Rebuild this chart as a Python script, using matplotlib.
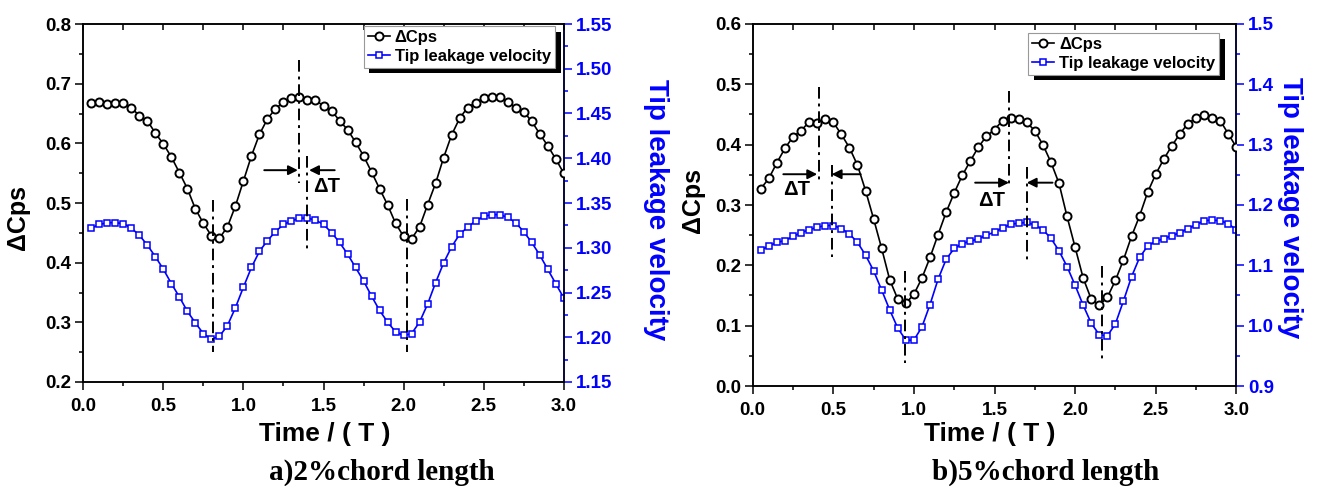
import numpy as np
import matplotlib
matplotlib.use("Agg")
import matplotlib.pyplot as plt
from matplotlib.ticker import MultipleLocator
import matplotlib.patheffects as pe

# ---------------- data ----------------
time = [round(0.05 * i, 2) for i in range(1, 61)]

cps_a = [0.668, 0.669, 0.666, 0.668, 0.668, 0.660, 0.646, 0.638, 0.617, 0.599,
         0.577, 0.551, 0.524, 0.490, 0.466, 0.445, 0.441, 0.460, 0.495, 0.537,
         0.579, 0.615, 0.641, 0.658, 0.669, 0.676, 0.678, 0.672, 0.672, 0.663,
         0.655, 0.638, 0.623, 0.602, 0.579, 0.552, 0.524, 0.497, 0.466, 0.444,
         0.440, 0.460, 0.497, 0.533, 0.576, 0.614, 0.642, 0.660, 0.668, 0.676,
         0.678, 0.678, 0.670, 0.660, 0.653, 0.637, 0.616, 0.596, 0.574, 0.550]

vel_a = [1.322, 1.326, 1.328, 1.328, 1.327, 1.322, 1.314, 1.303, 1.290, 1.276,
         1.260, 1.245, 1.229, 1.216, 1.204, 1.198, 1.201, 1.213, 1.233, 1.256,
         1.278, 1.296, 1.308, 1.318, 1.326, 1.330, 1.333, 1.333, 1.331, 1.326,
         1.317, 1.306, 1.293, 1.278, 1.263, 1.246, 1.230, 1.217, 1.206, 1.202,
         1.204, 1.217, 1.237, 1.261, 1.283, 1.301, 1.315, 1.323, 1.330, 1.335,
         1.337, 1.337, 1.334, 1.328, 1.318, 1.306, 1.292, 1.276, 1.260, 1.244]

cps_b = [0.327, 0.344, 0.370, 0.394, 0.413, 0.423, 0.438, 0.436, 0.443, 0.437,
         0.417, 0.395, 0.366, 0.324, 0.277, 0.228, 0.176, 0.144, 0.137, 0.152,
         0.179, 0.213, 0.251, 0.288, 0.320, 0.349, 0.373, 0.396, 0.414, 0.425,
         0.440, 0.445, 0.443, 0.437, 0.423, 0.400, 0.371, 0.336, 0.281, 0.230,
         0.179, 0.144, 0.134, 0.147, 0.175, 0.209, 0.248, 0.282, 0.321, 0.351,
         0.376, 0.398, 0.418, 0.435, 0.444, 0.449, 0.445, 0.440, 0.418, 0.396]

vel_b = [1.125, 1.132, 1.138, 1.141, 1.148, 1.154, 1.159, 1.163, 1.166, 1.166,
         1.161, 1.152, 1.138, 1.117, 1.091, 1.059, 1.026, 0.996, 0.976, 0.976,
         0.998, 1.035, 1.077, 1.110, 1.128, 1.136, 1.140, 1.144, 1.150, 1.155,
         1.162, 1.168, 1.170, 1.171, 1.167, 1.159, 1.145, 1.124, 1.098, 1.067,
         1.034, 1.004, 0.985, 0.983, 1.003, 1.041, 1.081, 1.113, 1.132, 1.140,
         1.144, 1.149, 1.154, 1.161, 1.167, 1.174, 1.175, 1.174, 1.169, 1.159]

# reference lines (t, y_from, y_to) in ΔCps units
vlines_a = [(0.81, 0.505, 0.250), (2.02, 0.507, 0.251),
            (1.35, 0.740, 0.533), (1.40, 0.579, 0.418)]
arrows_a = [(1.13, 1.34, 0.555), (1.57, 1.41, 0.555)]
dT_a = (1.52, 0.527)

vlines_b = [(0.41, 0.496, 0.336), (0.49, 0.366, 0.214),
            (1.59, 0.489, 0.331), (1.70, 0.363, 0.203),
            (0.945, 0.191, 0.038), (2.165, 0.199, 0.038)]
arrows_b = [(0.19, 0.40, 0.351), (0.67, 0.49, 0.351),
            (1.38, 1.59, 0.337), (1.86, 1.70, 0.337)]
dT_b = [(0.27, 0.325), (1.48, 0.307)]

BLUE = "#0000FF"
plt.rcParams['font.family'] = ['Liberation Sans', 'DejaVu Sans']
plt.rcParams['font.weight'] = 'bold'
plt.rcParams['axes.linewidth'] = 1.1

fig = plt.figure(figsize=(13.2, 4.86), dpi=100)
W, H = 1320, 486


def ax_rect(x0, x1, ytop, ybot):
    return [x0 / W, 1 - ybot / H, (x1 - x0) / W, (ybot - ytop) / H]


def make_panel(rect, cps, vel, ylim, ymaj, yl, yl_maj, vlines, arrows, dts,
               leg_anchor, labels_px):
    ax = fig.add_axes(rect)
    ax2 = ax.twinx()
    l1, = ax.plot(time, cps, color='black', lw=1.2, marker='o', ms=5.8,
                  mfc='white', mec='black', mew=1.4, label='ΔCps', zorder=3)
    l2, = ax2.plot(time, vel, color=BLUE, lw=1.2, marker='s', ms=4.2,
                   mfc='white', mec=BLUE, mew=1.1, label='Tip leakage velocity')
    ax.set_zorder(ax2.get_zorder() + 1)
    ax.patch.set_visible(False)

    ax.set_xlim(0, 3.0)
    ax.set_ylim(*ylim)
    ax2.set_ylim(*yl)
    ax.xaxis.set_major_locator(MultipleLocator(0.5))
    ax.xaxis.set_minor_locator(MultipleLocator(0.25))
    ax.yaxis.set_major_locator(MultipleLocator(ymaj))
    ax.yaxis.set_minor_locator(MultipleLocator(ymaj / 2))
    ax2.yaxis.set_major_locator(MultipleLocator(yl_maj))
    ax2.yaxis.set_minor_locator(MultipleLocator(yl_maj / 2))

    ax.tick_params(axis='both', which='major', direction='out', length=5.5,
                   width=1.1, labelsize=13.5, pad=3)
    ax.tick_params(axis='x', which='major', pad=6)
    ax.tick_params(axis='both', which='minor', direction='out', length=3,
                   width=1.1)
    ax.tick_params(axis='x', which='both', top=True, labeltop=False)
    ax2.tick_params(axis='y', which='major', direction='out', length=5.5,
                    width=1.1, colors=BLUE, labelsize=13.5, pad=3)
    ax2.tick_params(axis='y', which='minor', direction='out', length=3,
                    width=1.1, colors=BLUE)
    ax2.spines['right'].set_color(BLUE)
    for lab in ax.get_xticklabels() + ax.get_yticklabels() + ax2.get_yticklabels():
        lab.set_fontweight('bold')

    # top ticks point inward
    for t in ax.xaxis.get_major_ticks() + ax.xaxis.get_minor_ticks():
        t.tick2line.set_marker(matplotlib.lines.TICKDOWN)
        t.tick2line.set_markersize(4)

    ax.xaxis.set_major_formatter(matplotlib.ticker.FormatStrFormatter('%.1f'))

    for (t, y0, y1) in vlines:
        ax.plot([t, t], [y0, y1], color='black', lw=1.4, ls=(0, (6, 2.5, 1.5, 2.5)),
                zorder=4)
    for (x0, x1, y) in arrows:
        ax.annotate('', xy=(x1, y), xytext=(x0, y),
                    arrowprops=dict(arrowstyle='-|>', color='black', lw=1.4,
                                    mutation_scale=14, shrinkA=0, shrinkB=0),
                    zorder=4)
    for (x, y) in dts:
        ax.text(x, y, 'ΔT', fontsize=14.5, fontweight='bold', ha='center',
                va='center', zorder=4)

    leg = ax.legend(handles=[l1, l2], loc='upper right',
                    bbox_to_anchor=leg_anchor, borderaxespad=0,
                    fancybox=False, framealpha=1, edgecolor='#999999',
                    prop={'weight': 'bold', 'size': 12}, handlelength=1.3,
                    handletextpad=0.3, borderpad=0.25, labelspacing=0.2)
    leg.get_frame().set_linewidth(0.8)
    leg.get_frame().set_path_effects([
        pe.SimplePatchShadow(offset=(4, -4), shadow_rgbFace='black', alpha=1.0),
        pe.Normal()])

    (lx, ly), (rx, ry), (tx, ty), (cx, cy), cap = labels_px
    fig.text(lx / W, 1 - ly / H, 'ΔCps', rotation=90, fontsize=18,
             fontweight='bold', ha='center', va='center')
    fig.text(rx / W, 1 - ry / H, 'Tip leakage velocity', rotation=270,
             fontsize=20, fontweight='bold', color=BLUE, ha='center', va='center')
    fig.text(tx / W, 1 - ty / H, 'Time / ( T )', fontsize=19,
             fontweight='bold', ha='center', va='center')
    fig.text(cx / W, 1 - cy / H, cap, fontsize=21, fontweight='bold',
             family=['Liberation Serif', 'DejaVu Serif'], ha='center', va='center')
    return ax, ax2


make_panel(ax_rect(83.3, 563.7, 24, 382), cps_a, vel_a, (0.2, 0.8), 0.1,
           (1.15, 1.55), 0.05, vlines_a, arrows_a, [dT_a], (0.982, 0.994),
           ((18, 217), (656, 210), (325, 434), (382, 472), 'a)2%chord length'))
make_panel(ax_rect(752.7, 1236.3, 24, 386), cps_b, vel_b, (0.0, 0.6), 0.1,
           (0.9, 1.5), 0.1, vlines_b, arrows_b, dT_b, (0.965, 0.975),
           ((692.5, 200), (1290, 208), (990, 434), (1046, 472), 'b)5%chord length'))

fig.savefig('out.png', dpi=100)
